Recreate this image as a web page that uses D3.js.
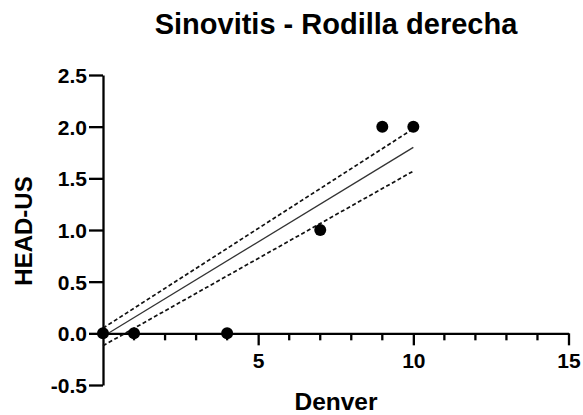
<!DOCTYPE html>
<html>
<head>
<meta charset="utf-8">
<script src="https://cdn.jsdelivr.net/npm/d3@7"></script>
<style>
  html, body { margin: 0; padding: 0; background: #fff; }
  svg { display: block; font-family: "Liberation Sans", Arial, Helvetica, sans-serif; }
</style>
</head>
<body>
<svg id="chart" width="583" height="415"></svg>
<script>
// Observations: Denver score vs HEAD-US score
const denver = [0, 1, 4, 7, 9, 10];
const headUs = [0, 0, 0, 1, 2, 2];

// Linear fit and 95% confidence band, evaluated at the ends of the data range
const fitX = [0, 10];
const fitY = [-0.03, 1.80];
const bandUpper = [0.05, 1.98];
const bandLower = [-0.12, 1.57];

const xTicks = [5, 10, 15];
const xMinorTicks = [1, 2, 3, 4, 6, 7, 8, 9, 11, 12, 13, 14];
const yTicks = [-0.5, 0.0, 0.5, 1.0, 1.5, 2.0, 2.5];

const svg = d3.select("#chart");
const x = d3.scaleLinear().domain([0, 15]).range([103, 568.5]);
const y = d3.scaleLinear().domain([-0.5, 2.5]).range([385, 75]);

const fmtY = v => d3.format(".1f")(v).replace("\u2212", "-");

// Title
svg.append("text")
  .attr("x", 336).attr("y", 34)
  .attr("text-anchor", "middle")
  .attr("font-size", 29).attr("font-weight", "bold")
  .text("Sinovitis - Rodilla derecha");

// Y axis
const yAxis = svg.append("g")
  .attr("transform", `translate(${x(0)},0)`)
  .call(d3.axisLeft(y).tickValues(yTicks).tickFormat(fmtY).tickSize(14).tickPadding(2).tickSizeOuter(0));
yAxis.select(".domain").attr("stroke", "#000").attr("stroke-width", 2.3);
yAxis.selectAll(".tick line").attr("stroke", "#000").attr("stroke-width", 2.3);
yAxis.selectAll(".tick text")
  .attr("font-size", 21).attr("font-weight", "bold").attr("fill", "#000")
  .attr("font-family", "Liberation Sans, Arial, sans-serif")
  .attr("dy", "0.36em");

// X axis at y = 0
const xAxis = svg.append("g")
  .attr("transform", `translate(0,${y(0)})`)
  .call(d3.axisBottom(x).tickValues(xTicks).tickSize(12).tickPadding(8).tickSizeOuter(0));
xAxis.select(".domain").attr("stroke", "#000").attr("stroke-width", 2.3);
xAxis.selectAll(".tick line").attr("stroke", "#000").attr("stroke-width", 2.3);
xAxis.selectAll(".tick text")
  .attr("font-size", 21).attr("font-weight", "bold").attr("fill", "#000")
  .attr("font-family", "Liberation Sans, Arial, sans-serif");

// Minor ticks
svg.append("g").selectAll("line")
  .data(xMinorTicks).join("line")
  .attr("x1", d => x(d)).attr("x2", d => x(d))
  .attr("y1", y(0)).attr("y2", y(0) + 7)
  .attr("stroke", "#000").attr("stroke-width", 2.3);

// Axis titles
svg.append("text")
  .attr("x", 336).attr("y", 410)
  .attr("text-anchor", "middle")
  .attr("font-size", 24.5).attr("font-weight", "bold")
  .text("Denver");
svg.append("text")
  .attr("transform", "translate(32,231) rotate(-90)")
  .attr("text-anchor", "middle")
  .attr("font-size", 24).attr("font-weight", "bold")
  .text("HEAD-US");

// Regression line and confidence band
const line = d3.line().x(d => x(d[0])).y(d => y(d[1]));
svg.append("path")
  .attr("d", line(fitX.map((v, i) => [v, fitY[i]])))
  .attr("fill", "none").attr("stroke", "#333").attr("stroke-width", 1.3);
[bandUpper, bandLower].forEach(b => {
  svg.append("path")
    .attr("d", line(fitX.map((v, i) => [v, b[i]])))
    .attr("fill", "none").attr("stroke", "#111").attr("stroke-width", 1.7)
    .attr("stroke-dasharray", "4,2.5");
});

// Points
svg.append("g").selectAll("circle")
  .data(denver.map((d, i) => [d, headUs[i]])).join("circle")
  .attr("cx", d => x(d[0])).attr("cy", d => y(d[1]))
  .attr("r", 6).attr("fill", "#000");
</script>
</body>
</html>
